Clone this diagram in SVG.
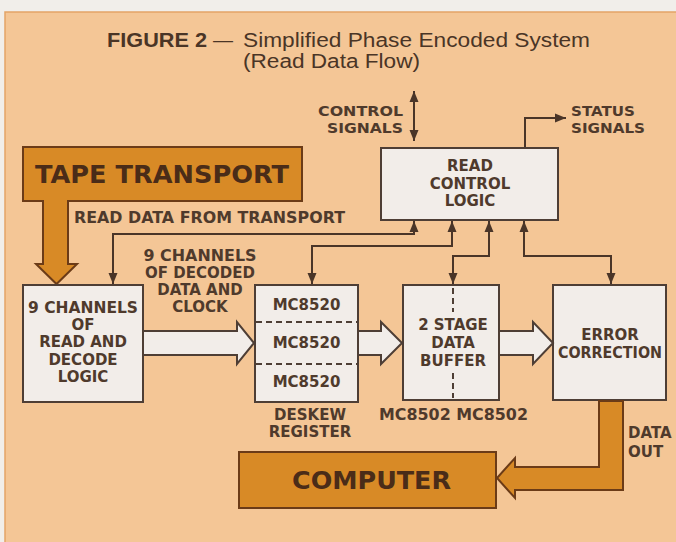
<svg xmlns="http://www.w3.org/2000/svg" width="676" height="542" viewBox="0 0 676 542">
<style>
.bg{fill:#F4C696;stroke:#E3A467;stroke-width:1.5}
.box{fill:#F2EDE9;stroke:#4E3E35;stroke-width:2}
.org{fill:#D88A26;stroke:#6B3B17;stroke-width:2;stroke-linejoin:miter}
.blk{fill:#F2EDE9;stroke:#4E3E35;stroke-width:2;stroke-linejoin:miter}
.ln{fill:none;stroke:#4A3528;stroke-width:2}
.dash{fill:none;stroke:#4E3E35;stroke-width:2;stroke-dasharray:6 4}
.t{font-family:"DejaVu Sans","Liberation Sans",sans-serif;font-weight:bold;font-size:15px;fill:#4F3A2C}
.s{font-size:14px}
.c{text-anchor:middle}
.e{text-anchor:end}
.big{font-family:"DejaVu Sans","Liberation Sans",sans-serif;font-weight:bold;fill:#4A2C18}
.ti{font-family:"Liberation Sans",Arial,sans-serif;font-size:20px;fill:#4A3526}
</style>
<defs>
<marker id="ah" markerUnits="userSpaceOnUse" markerWidth="12" markerHeight="12" viewBox="0 0 12 12" refX="11" refY="6" orient="auto-start-reverse">
<path d="M0,1.5 L11,6 L0,10.5 Z" fill="#4A3528"/>
</marker>
</defs>
<rect x="0" y="0" width="676" height="542" fill="#F1EEEA"/>
<rect class="bg" x="5" y="12" width="680" height="540"/>

<g id="title">
<text class="ti" x="107" y="47" font-weight="bold" textLength="100" lengthAdjust="spacingAndGlyphs">FIGURE  2</text>
<text class="ti" x="213" y="47" textLength="20" lengthAdjust="spacingAndGlyphs">—</text>
<text class="ti" x="243" y="47" textLength="347" lengthAdjust="spacingAndGlyphs">Simplified Phase Encoded System</text>
<text class="ti" x="243" y="68" textLength="177" lengthAdjust="spacingAndGlyphs">(Read Data Flow)</text>
</g>

<g id="tape-transport">
<path class="org" d="M23,147 H302 V201 H68 V264 H77 L56.5,284 L36,264 H43 V201 H23 Z"/>
<text class="big" x="35" y="183" font-size="25" textLength="254" lengthAdjust="spacingAndGlyphs">TAPE TRANSPORT</text>
</g>

<g id="read-control-logic">
<rect class="box" x="381" y="148" width="177" height="72"/>
<text class="t c" x="470" y="171">READ</text>
<text class="t c" x="470" y="189">CONTROL</text>
<text class="t c" x="470" y="206">LOGIC</text>
</g>

<g id="read-decode">
<rect class="box" x="23" y="285" width="120" height="117"/>
<text class="t c" x="83" y="313" textLength="110" lengthAdjust="spacingAndGlyphs">9 CHANNELS</text>
<text class="t c" x="83" y="330">OF</text>
<text class="t c" x="83" y="347">READ AND</text>
<text class="t c" x="83" y="365">DECODE</text>
<text class="t c" x="83" y="382">LOGIC</text>
</g>

<g id="deskew-register">
<rect class="box" x="255" y="285" width="103" height="117"/>
<line class="dash" x1="256" y1="322" x2="357" y2="322"/>
<line class="dash" x1="256" y1="364" x2="357" y2="364"/>
<text class="t c" x="306.5" y="310">MC8520</text>
<text class="t c" x="306.5" y="348">MC8520</text>
<text class="t c" x="306.5" y="387">MC8520</text>
<text class="t c" x="310" y="420">DESKEW</text>
<text class="t c" x="310" y="437">REGISTER</text>
</g>

<g id="data-buffer">
<rect class="box" x="403" y="285" width="96" height="115"/>
<line class="dash" x1="453" y1="288" x2="453" y2="312" stroke-dasharray="7 4"/>
<line class="dash" x1="453" y1="373" x2="453" y2="398" stroke-dasharray="7 4"/>
<text class="t c" x="453" y="330">2 STAGE</text>
<text class="t c" x="453" y="348">DATA</text>
<text class="t c" x="453" y="366">BUFFER</text>
<text class="t c" x="453.5" y="420" textLength="149" lengthAdjust="spacingAndGlyphs">MC8502 MC8502</text>
</g>

<g id="error-correction">
<rect class="box" x="553" y="285" width="113" height="115"/>
<text class="t c" x="610" y="340">ERROR</text>
<text class="t c" x="610" y="358" textLength="104" lengthAdjust="spacingAndGlyphs">CORRECTION</text>
</g>

<g id="computer">
<rect class="org" x="239" y="452" width="257" height="56"/>
<text class="big" x="292" y="489" font-size="24" textLength="159" lengthAdjust="spacingAndGlyphs">COMPUTER</text>
</g>

<g id="connectors">
<path class="blk" d="M143,331 H237 V322 L254,343 L237,364 V355 H143 Z"/>
<path class="blk" d="M358,331 H381 V322 L402,343 L381,364 V355 H358 Z"/>
<path class="blk" d="M499,331 H533 V322 L553,343 L533,364 V355 H499 Z"/>
<path class="org" d="M599,401 V467 H515 V458 L497,478 L515,498 V490 H623 V401 Z"/>
<path class="ln" d="M414,91 V141" marker-start="url(#ah)" marker-end="url(#ah)"/>
<path class="ln" d="M525,147 V118 H566" marker-end="url(#ah)"/>
<path class="ln" d="M414,221 V234 H113 V284" marker-start="url(#ah)" marker-end="url(#ah)"/>
<path class="ln" d="M452,221 V246 H312 V284" marker-start="url(#ah)" marker-end="url(#ah)"/>
<path class="ln" d="M489,221 V256 H453 V284" marker-start="url(#ah)" marker-end="url(#ah)"/>
<path class="ln" d="M524,221 V256 H611 V284" marker-start="url(#ah)" marker-end="url(#ah)"/>
</g>

<g id="labels">
<text class="t s e" x="403" y="116" textLength="85" lengthAdjust="spacingAndGlyphs">CONTROL</text>
<text class="t s e" x="403" y="133" textLength="76" lengthAdjust="spacingAndGlyphs">SIGNALS</text>
<text class="t s" x="571" y="116" textLength="64" lengthAdjust="spacingAndGlyphs">STATUS</text>
<text class="t s" x="571" y="133" textLength="74" lengthAdjust="spacingAndGlyphs">SIGNALS</text>
<text class="t" x="74" y="223" textLength="271" lengthAdjust="spacingAndGlyphs">READ DATA FROM TRANSPORT</text>
<text class="t c" x="200" y="261" textLength="113" lengthAdjust="spacingAndGlyphs">9 CHANNELS</text>
<text class="t c" x="200" y="278">OF DECODED</text>
<text class="t c" x="200" y="295">DATA AND</text>
<text class="t c" x="200" y="312">CLOCK</text>
<text class="t" x="628" y="438">DATA</text>
<text class="t" x="628" y="457">OUT</text>
</g>
</svg>
